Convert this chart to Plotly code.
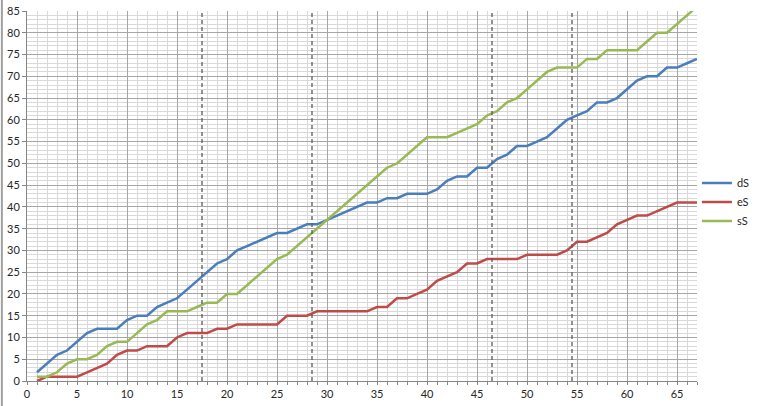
import plotly.graph_objects as go

x = list(range(1, 68))
dS = [2, 4, 6, 7, 9, 11, 12, 12, 12, 14, 15, 15, 17, 18, 19, 21, 23, 25, 27, 28,
      30, 31, 32, 33, 34, 34, 35, 36, 36, 37, 38, 39, 40, 41, 41, 42, 42, 43, 43, 43,
      44, 46, 47, 47, 49, 49, 51, 52, 54, 54, 55, 56, 58, 60, 61, 62, 64, 64, 65, 67,
      69, 70, 70, 72, 72, 73, 74]
eS = [0, 1, 1, 1, 1, 2, 3, 4, 6, 7, 7, 8, 8, 8, 10, 11, 11, 11, 12, 12,
      13, 13, 13, 13, 13, 15, 15, 15, 16, 16, 16, 16, 16, 16, 17, 17, 19, 19, 20, 21,
      23, 24, 25, 27, 27, 28, 28, 28, 28, 29, 29, 29, 29, 30, 32, 32, 33, 34, 36, 37,
      38, 38, 39, 40, 41, 41, 41]
sS = [1, 1, 2, 4, 5, 5, 6, 8, 9, 9, 11, 13, 14, 16, 16, 16, 17, 18, 18, 20,
      20, 22, 24, 26, 28, 29, 31, 33, 35, 37, 39, 41, 43, 45, 47, 49, 50, 52, 54, 56,
      56, 56, 57, 58, 59, 61, 62, 64, 65, 67, 69, 71, 72, 72, 72, 74, 74, 76, 76, 76,
      76, 78, 80, 80, 82, 84, 86]
series_names = ["dS", "eS", "sS"]
series_colors = ["#4A7EBB", "#BE4B48", "#98B954"]
markers = [17.5, 28.5, 46.5, 54.5]

fig = go.Figure()
for name, vals, col in zip(series_names, [dS, eS, sS], series_colors):
    fig.add_trace(go.Scatter(x=x, y=vals, name=name, mode="lines",
                             line=dict(color=col, width=2.5)))

for m in markers:
    fig.add_shape(type="line", xref="x", yref="paper", x0=m, x1=m, y0=0, y1=1,
                  line=dict(color="#595959", width=1.3, dash="4px,3px"), layer="above")

# chart outer border at left edge
fig.add_shape(type="line", xref="paper", yref="paper", x0=-0.0375, x1=-0.0375,
              y0=-0.07, y1=1.03, line=dict(color="#a0a0a0", width=2))

font = dict(family="Lato, Open Sans, sans-serif", size=11, color="#262626")

fig.update_layout(
    width=760, height=406,
    margin=dict(l=27, r=63, t=11, b=25, autoexpand=False),
    paper_bgcolor="white", plot_bgcolor="white",
    font=font,
    showlegend=True,
    legend=dict(xref="container", yref="container", x=0.917, xanchor="left",
                y=0.585, yanchor="top",
                bgcolor="rgba(0,0,0,0)", font=dict(size=11, color="#262626"),
                tracegroupgap=0, itemwidth=30),
    xaxis=dict(range=[0, 67], dtick=5, tick0=0, showgrid=True, gridcolor="#a6a6a6",
               gridwidth=1, zeroline=False, showline=True, linecolor="#868686",
               linewidth=1, ticks="outside", ticklen=3, tickcolor="#868686",
               automargin=False,
               minor=dict(dtick=1, showgrid=True, gridcolor="#d9d9d9", gridwidth=1,
                          ticks="outside", ticklen=3, tickcolor="#868686"),
               tickfont=font, mirror=False),
    yaxis=dict(range=[0, 85], dtick=5, tick0=0, showgrid=True, gridcolor="#a6a6a6",
               gridwidth=1, zeroline=False, showline=True, linecolor="#868686",
               linewidth=1, ticks="outside", ticklen=4, tickcolor="#868686",
               automargin=False,
               minor=dict(dtick=1, showgrid=True, gridcolor="#d9d9d9", gridwidth=1),
               tickfont=font),
)

fig.write_html("out.html", config={"displayModeBar": False},
               post_script="document.body.style.margin='0';")
